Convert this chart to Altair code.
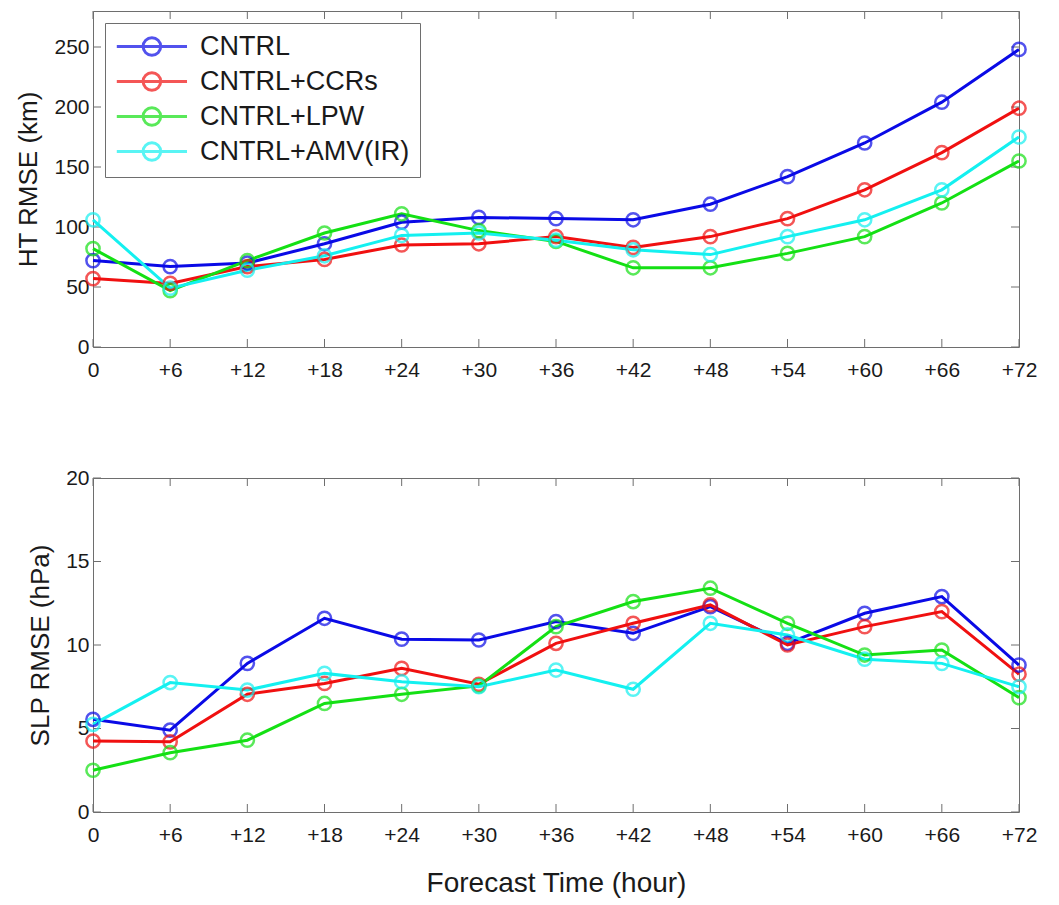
import json
import altair as alt
import pandas as pd

# ---------------- data ----------------
hours = [0, 6, 12, 18, 24, 30, 36, 42, 48, 54, 60, 66, 72]
x_labels = ["0", "+6", "+12", "+18", "+24", "+30", "+36", "+42", "+48", "+54", "+60", "+66", "+72"]
series = ["CNTRL", "CNTRL+CCRs", "CNTRL+LPW", "CNTRL+AMV(IR)"]
colors = ["#0a0ae6", "#f01010", "#14e014", "#14f0f0"]

ht_cntrl = [72, 67, 70, 86, 104, 108, 107, 106, 119, 142, 170, 204, 248]
ht_ccrs = [57, 53, 67, 73, 85, 86, 92, 83, 92, 107, 131, 162, 199]
ht_lpw = [82, 47, 72, 95, 111, 97, 88, 66, 66, 78, 92, 120, 155]
ht_amv = [106, 49, 64, 76, 93, 95, 89, 81, 77, 92, 106, 131, 175]

slp_cntrl = [5.55, 4.9, 8.9, 11.6, 10.35, 10.3, 11.4, 10.7, 12.3, 10.1, 11.9, 12.9, 8.8]
slp_ccrs = [4.25, 4.2, 7.05, 7.7, 8.6, 7.65, 10.1, 11.3, 12.4, 10.0, 11.1, 12.0, 8.25]
slp_lpw = [2.5, 3.55, 4.3, 6.5, 7.05, 7.55, 11.1, 12.6, 13.4, 11.3, 9.4, 9.7, 6.85]
slp_amv = [5.25, 7.75, 7.3, 8.3, 7.8, 7.5, 8.5, 7.35, 11.3, 10.6, 9.15, 8.9, 7.5]

ht_ticks = [0, 50, 100, 150, 200, 250]
slp_ticks = [0, 5, 10, 15, 20]
ht_domain = [0, 280]
slp_domain = [0, 20]


def to_long(arrays):
    rows = []
    for name, vals in zip(series, arrays):
        for h, v in zip(hours, vals):
            rows.append({"series": name, "hour": h, "value": v})
    return pd.DataFrame(rows)


ht_df = to_long([ht_cntrl, ht_ccrs, ht_lpw, ht_amv])
slp_df = to_long([slp_cntrl, slp_ccrs, slp_lpw, slp_amv])

# ---------------- style ----------------
FONT = "Liberation Sans"
W = 926
H1 = 336
H2 = 334
TICK = 8
FRAME = "#6e6e6e"
TEXT = "#1a1a1a"

label_expr = f"{json.dumps(x_labels)}[indexof({json.dumps(hours)}, datum.value)]"
# line segment with an open circle on it (MATLAB 'o-' legend sample)
legend_symbol = "M-1,0H5M2.75,0A0.75,0.75 0 1 1 1.25,0A0.75,0.75 0 1 1 2.75,0"


def panel(df, ytitle, ydomain, yticks, H, xtitle, show_legend):
    xscale = alt.Scale(domain=[0, 72], nice=False, zero=False)
    yscale = alt.Scale(domain=ydomain, nice=False)
    if show_legend:
        legend = alt.Legend(
            title=None, orient="top-left", offset=12,
            symbolType=legend_symbol, symbolSize=548, symbolStrokeWidth=3,
            symbolFillColor="transparent",
            labelFont=FONT, labelFontSize=27, labelColor=TEXT, labelOffset=58,
            labelLimit=0,
            padding=10, rowPadding=4, strokeColor=FRAME, fillColor="white",
        )
    else:
        legend = None
    color = alt.Color("series:N", scale=alt.Scale(domain=series, range=colors), legend=legend)

    xaxis_kw = dict(
        values=hours, labelExpr=label_expr, ticks=False, domain=False, grid=False,
        labelFont=FONT, labelFontSize=21, labelColor=TEXT, labelPadding=12,
        labelFlush=False, labelOverlap=False,
    )
    if xtitle:
        xaxis = alt.Axis(title=xtitle, titleFont=FONT, titleFontSize=28, titleFontWeight="normal",
                         titleColor=TEXT, titlePadding=24, **xaxis_kw)
    else:
        xaxis = alt.Axis(title=None, **xaxis_kw)
    yaxis = alt.Axis(
        values=yticks, ticks=False, domain=False, grid=False,
        labelFont=FONT, labelFontSize=21, labelColor=TEXT, labelPadding=4,
        labelFlush=False, labelOverlap=False,
        title=ytitle, titleFont=FONT, titleFontSize=26, titleFontWeight="normal",
        titleColor=TEXT, titlePadding=12,
    )

    base = alt.Chart(df)
    lines = base.mark_line(strokeWidth=3).encode(
        x=alt.X("hour:Q", scale=xscale, axis=xaxis),
        y=alt.Y("value:Q", scale=yscale, axis=yaxis),
        color=color,
    )
    points = base.mark_point(shape="circle", filled=False, size=175, strokeWidth=2.5).encode(
        x="hour:Q", y="value:Q", color=color,
    )

    xt = pd.DataFrame({"hour": hours})
    yt = pd.DataFrame({"value": yticks})
    tb = alt.Chart(xt).mark_rule(color=FRAME, strokeWidth=1).encode(
        x="hour:Q", y=alt.value(H), y2=alt.value(H - TICK))
    tt = alt.Chart(xt).mark_rule(color=FRAME, strokeWidth=1).encode(
        x="hour:Q", y=alt.value(0), y2=alt.value(TICK))
    tl = alt.Chart(yt).mark_rule(color=FRAME, strokeWidth=1).encode(
        y="value:Q", x=alt.value(0), x2=alt.value(TICK))
    tr = alt.Chart(yt).mark_rule(color=FRAME, strokeWidth=1).encode(
        y="value:Q", x=alt.value(W - TICK), x2=alt.value(W))

    return alt.layer(tb, tt, tl, tr, lines, points).properties(width=W, height=H)


top = panel(ht_df, "HT RMSE (km)", ht_domain, ht_ticks, H1, None, True)
bottom = panel(slp_df, "SLP RMSE (hPa)", slp_domain, slp_ticks, H2, "Forecast Time (hour)", False)

chart = (
    alt.vconcat(top, bottom, spacing=131, bounds="flush")
    .resolve_legend(color="independent")
    .configure_view(stroke=FRAME, strokeWidth=1)
    .properties(padding={"left": 7, "top": 2, "right": 5, "bottom": 5}, background="white")
)

chart.save("out.html", embed_options={"renderer": "svg", "actions": False})
